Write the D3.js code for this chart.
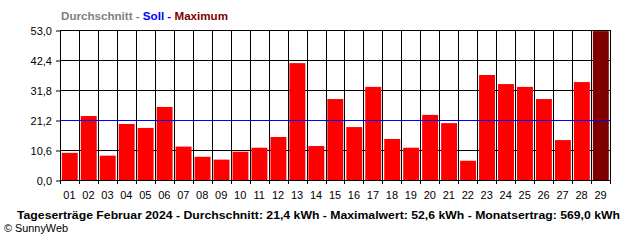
<html>
<head>
<meta charset="utf-8">
<title>Tageserträge Februar 2024</title>
<style>
	body, html {
		margin: 0;
		padding: 0;
		background: #fff;
		overflow: hidden;
	}
	svg text {
		font-family: "Liberation Sans", Arial, sans-serif;
	}
</style>
<script src="https://cdn.jsdelivr.net/npm/d3@7"></script>
</head>
<body>
<svg id="chart" width="640" height="240"></svg>
<script>
	var days = ["01","02","03","04","05","06","07","08","09","10","11","12","13","14","15",
		"16","17","18","19","20","21","22","23","24","25","26","27","28","29"];
	var ertrag = [9.6, 22.6, 8.6, 19.8, 18.4, 25.8, 11.8, 8.2, 7.2, 10.0, 11.4, 15.2, 41.3, 12.0, 28.6,
		18.7, 32.9, 14.5, 11.4, 23.0, 20.1, 6.8, 37.1, 33.9, 32.9, 28.6, 14.1, 34.6, 52.6];
	var yTicks = [0, 10.6, 21.2, 31.8, 42.4, 53.0];
	var soll = 21.2;
	var yMax = 53.0;
	var header = [
		{text: "Durchschnitt - ", color: "#808080"},
		{text: "Soll - ", color: "#0000ff"},
		{text: "Maximum", color: "#800000"}
	];
	var title = "Tageserträge Februar 2024 - Durchschnitt: 21,4 kWh - Maximalwert: 52,6 kWh - Monatsertrag: 569,0 kWh";

	var svg = d3.select('#chart'),
		plotLeft = 60, plotRight = 610, plotTop = 30, plotBottom = 180;

	var x = d3.scaleBand().domain(days).range([plotLeft, plotRight]).paddingInner(0.16).paddingOuter(0.08).align(0.6);
	var xGrid = d3.scaleLinear().domain([0, days.length]).range([plotLeft, plotRight]);
	var y = d3.scaleLinear().domain([0, yMax]).range([plotBottom, plotTop]);
	var fmt = function(v) { return d3.format('.1f')(v).replace('.', ','); };
	var maxVal = d3.max(ertrag);

	// y labels + small ticks left of the axis
	var yAxis = d3.axisLeft(y).tickValues(yTicks).tickFormat(fmt).tickSize(4).tickPadding(4);
	var gy = svg.append('g').attr('transform', 'translate(' + plotLeft + ',0.5)').call(yAxis);
	gy.select('.domain').remove();
	gy.selectAll('line').attr('stroke', '#000');
	gy.selectAll('text').attr('font-size', 11).attr('fill', '#000').attr('font-family', '"Liberation Sans", Arial, sans-serif');

	// horizontal grid
	svg.append('g').selectAll('line').data(yTicks).enter().append('line')
		.attr('x1', plotLeft).attr('x2', plotRight)
		.attr('y1', function(d) { return Math.round(y(d)) + 0.5; })
		.attr('y2', function(d) { return Math.round(y(d)) + 0.5; })
		.attr('stroke', '#000');

	// vertical grid
	svg.append('g').selectAll('line').data(d3.range(days.length + 1)).enter().append('line')
		.attr('x1', function(d) { return Math.round(xGrid(d)) + 0.5; })
		.attr('x2', function(d) { return Math.round(xGrid(d)) + 0.5; })
		.attr('y1', plotTop).attr('y2', plotBottom + 4)
		.attr('stroke', '#000');

	// bars
	svg.append('g').selectAll('rect').data(ertrag).enter().append('rect')
		.attr('x', function(d, i) { return x(days[i]); })
		.attr('width', x.bandwidth())
		.attr('y', function(d) { return y(d); })
		.attr('height', function(d) { return y(0) - y(d); })
		.attr('fill', function(d) { return d === maxVal ? '#800000' : '#ff0000'; });

	// soll line
	svg.append('line')
		.attr('x1', plotLeft).attr('x2', plotRight)
		.attr('y1', Math.round(y(soll)) + 0.5).attr('y2', Math.round(y(soll)) + 0.5)
		.attr('stroke', '#0000ff');

	// x labels
	svg.append('g').selectAll('text').data(days).enter().append('text')
		.attr('x', function(d, i) { return xGrid(i + 0.5); })
		.attr('y', 199)
		.attr('text-anchor', 'middle')
		.attr('font-size', 11)
		.text(function(d) { return d; });

	// header
	var h = svg.append('text').attr('x', 61).attr('y', 20).attr('font-size', 11).attr('font-weight', 'bold')
		.attr('textLength', 167).attr('lengthAdjust', 'spacingAndGlyphs');
	header.forEach(function(p) {
		h.append('tspan').attr('fill', p.color).text(p.text);
	});

	// footer
	svg.append('text').attr('x', 17).attr('y', 219).attr('font-size', 11).attr('font-weight', 'bold')
		.attr('textLength', 603).attr('lengthAdjust', 'spacingAndGlyphs')
		.text(title);
	svg.append('text').attr('x', 4).attr('y', 232).attr('font-size', 10)
		.attr('textLength', 64).attr('lengthAdjust', 'spacingAndGlyphs')
		.text('© SunnyWeb');
</script>
</body>
</html>
